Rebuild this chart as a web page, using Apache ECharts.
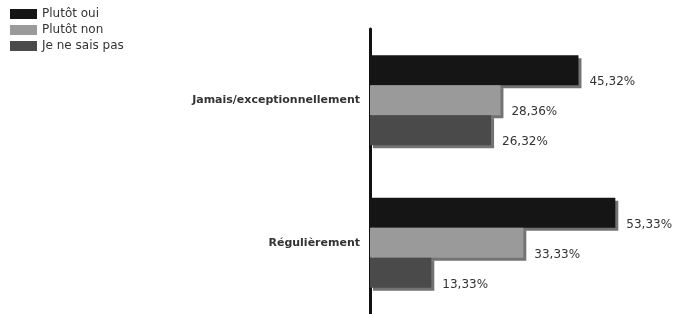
<!DOCTYPE html>
<html>
<head>
<meta charset="utf-8">
<script src="https://cdn.jsdelivr.net/npm/echarts@6/dist/echarts.min.js"></script>
<style>
  html, body { margin: 0; padding: 0; background: #fff; }
  #chart { width: 679px; height: 314px; }
</style>
</head>
<body>
<div id="chart"></div>
<script>
var categories = ['Jamais/exceptionnellement', 'Régulièrement'];
var plutotOui = [45.32, 53.33];
var plutotNon = [28.36, 33.33];
var neSaisPas = [26.32, 13.33];

var dom = document.getElementById('chart');
var myChart = echarts.init(dom, null, { renderer: 'canvas' });

function pct(p) {
  return p.value.toFixed(2).replace('.', ',') + '%';
}

function makeSeries(name, data, color) {
  return {
    name: name,
    type: 'bar',
    data: data,
    barWidth: 30,
    barGap: '0%',
    itemStyle: {
      color: color,
      shadowColor: 'rgba(0,0,0,0.55)',
      shadowOffsetX: 3,
      shadowOffsetY: 3,
      shadowBlur: 0
    },
    label: {
      show: true,
      position: 'right',
      distance: 11,
      offset: [0, 12],
      formatter: pct,
      fontFamily: 'DejaVu Sans',
      fontSize: 12,
      color: '#333'
    }
  };
}

var option = {
  animation: false,
  textStyle: { fontFamily: 'DejaVu Sans' },
  legend: {
    orient: 'vertical',
    left: 5,
    top: 3,
    itemWidth: 27,
    itemHeight: 10,
    itemGap: 4,
    icon: 'rect',
    itemStyle: { shadowBlur: 0, shadowOffsetX: 0, shadowOffsetY: 0, shadowColor: 'transparent' },
    textStyle: { fontSize: 12, color: '#333' },
    data: ['Plutôt oui', 'Plutôt non', 'Je ne sais pas']
  },
  grid: { left: 370, right: 33, top: 29, bottom: 0 },
  xAxis: {
    type: 'value',
    min: 0,
    max: 60,
    show: false
  },
  yAxis: {
    type: 'category',
    inverse: true,
    data: categories,
    axisLine: { show: true, lineStyle: { color: '#111', width: 3 } },
    axisTick: { show: false },
    axisLabel: {
      margin: 10,
      fontSize: 11,
      fontWeight: 'bold',
      color: '#333',
      padding: [0, 0, 12, 0]
    }
  },
  series: [
    makeSeries('Plutôt oui', plutotOui, '#151515'),
    makeSeries('Plutôt non', plutotNon, '#9a9a9a'),
    makeSeries('Je ne sais pas', neSaisPas, '#4a4a4a')
  ]
};

myChart.setOption(option);
window.addEventListener('resize', myChart.resize);
</script>
</body>
</html>
